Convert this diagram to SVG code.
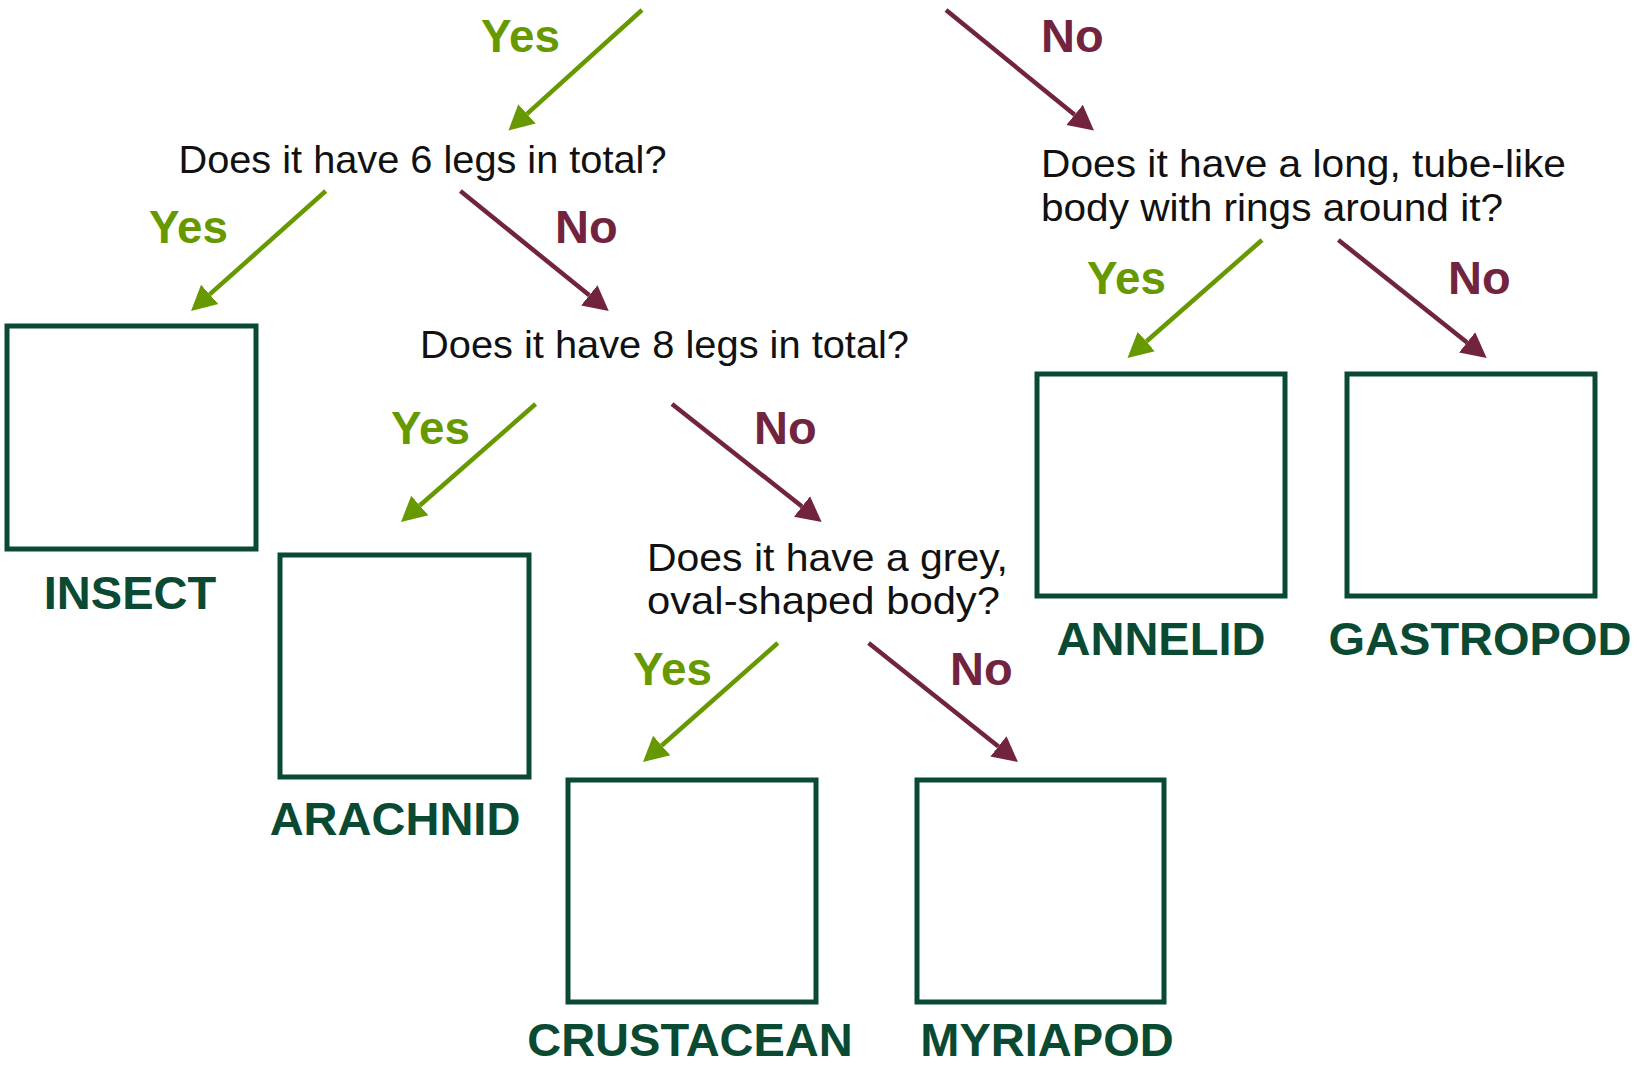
<svg xmlns="http://www.w3.org/2000/svg" width="1637" height="1066" viewBox="0 0 1637 1066">
<style>
.q{font-family:"Liberation Sans",Arial,sans-serif;font-size:39.5px;fill:#111}
.yes{font-family:"Liberation Sans",Arial,sans-serif;font-size:47px;font-weight:bold;fill:#669900}
.no{font-family:"Liberation Sans",Arial,sans-serif;font-size:47px;font-weight:bold;fill:#72243F}
.lbl{font-family:"Liberation Sans",Arial,sans-serif;font-size:47px;font-weight:bold;fill:#0A4A33;text-anchor:middle}
.box{fill:#fff;stroke:#0A4A33;stroke-width:5}
.ay{stroke:#669900;stroke-width:4.5;fill:none;marker-end:url(#hy)}
.an{stroke:#72243F;stroke-width:4.5;fill:none;marker-end:url(#hn)}
</style>
<defs>
<marker id="hy" markerUnits="userSpaceOnUse" markerWidth="30" markerHeight="30" viewBox="0 -15 30 30" refX="0" refY="0" orient="auto"><path d="M0,-13 L25,0 L0,13 Z" fill="#669900"/></marker>
<marker id="hn" markerUnits="userSpaceOnUse" markerWidth="30" markerHeight="30" viewBox="0 -15 30 30" refX="0" refY="0" orient="auto"><path d="M0,-13 L25,0 L0,13 Z" fill="#72243F"/></marker>
</defs>
<rect width="1637" height="1066" fill="#fff"/>
<g id="connectors">
<line class="ay" x1="642" y1="10" x2="527" y2="113.8"/>
<line class="an" x1="946" y1="10" x2="1074.6" y2="114.8"/>
<line class="ay" x1="325.7" y1="191" x2="209.7" y2="294.4"/>
<line class="an" x1="460.4" y1="191" x2="589.3" y2="295.3"/>
<line class="ay" x1="535.6" y1="404" x2="419.8" y2="505.5"/>
<line class="an" x1="672" y1="404" x2="802" y2="506.5"/>
<line class="ay" x1="777.8" y1="643" x2="661.7" y2="745.5"/>
<line class="an" x1="868.6" y1="643" x2="998.4" y2="746.4"/>
<line class="ay" x1="1262" y1="240" x2="1146.3" y2="341.5"/>
<line class="an" x1="1338.4" y1="240" x2="1467.1" y2="342.4"/>
<text class="yes" x="481" y="52" textLength="79" lengthAdjust="spacingAndGlyphs">Yes</text>
<text class="no" x="1041" y="52">No</text>
<text class="yes" x="149" y="243" textLength="79" lengthAdjust="spacingAndGlyphs">Yes</text>
<text class="no" x="555" y="243">No</text>
<text class="yes" x="391" y="444" textLength="79" lengthAdjust="spacingAndGlyphs">Yes</text>
<text class="no" x="754" y="444">No</text>
<text class="yes" x="633" y="685" textLength="79" lengthAdjust="spacingAndGlyphs">Yes</text>
<text class="no" x="950" y="685">No</text>
<text class="yes" x="1087" y="294" textLength="79" lengthAdjust="spacingAndGlyphs">Yes</text>
<text class="no" x="1448" y="294">No</text>
</g>
<g id="q1"><text class="q" x="178.5" y="173" textLength="488" lengthAdjust="spacingAndGlyphs">Does it have 6 legs in total?</text></g>
<g id="q2"><text class="q" x="420" y="358" textLength="489" lengthAdjust="spacingAndGlyphs">Does it have 8 legs in total?</text></g>
<g id="q3"><text class="q" x="647" y="571" textLength="361" lengthAdjust="spacingAndGlyphs">Does it have a grey,</text><text class="q" x="647" y="614" textLength="353" lengthAdjust="spacingAndGlyphs">oval-shaped body?</text></g>
<g id="q4"><text class="q" x="1041" y="177" textLength="525" lengthAdjust="spacingAndGlyphs">Does it have a long, tube-like</text><text class="q" x="1041" y="221" textLength="462" lengthAdjust="spacingAndGlyphs">body with rings around it?</text></g>
<g id="insect"><rect class="box" x="7" y="326" width="249" height="223"/><text class="lbl" x="130" y="609">INSECT</text></g>
<g id="arachnid"><rect class="box" x="280" y="555" width="249" height="222"/><text class="lbl" x="395" y="835">ARACHNID</text></g>
<g id="crustacean"><rect class="box" x="568" y="780" width="248" height="222"/><text class="lbl" x="690" y="1056">CRUSTACEAN</text></g>
<g id="myriapod"><rect class="box" x="917" y="780" width="247" height="222"/><text class="lbl" x="1047" y="1056">MYRIAPOD</text></g>
<g id="annelid"><rect class="box" x="1037" y="374" width="248" height="222"/><text class="lbl" x="1161" y="655">ANNELID</text></g>
<g id="gastropod"><rect class="box" x="1347" y="374" width="248" height="222"/><text class="lbl" x="1480" y="655">GASTROPOD</text></g>
</svg>
